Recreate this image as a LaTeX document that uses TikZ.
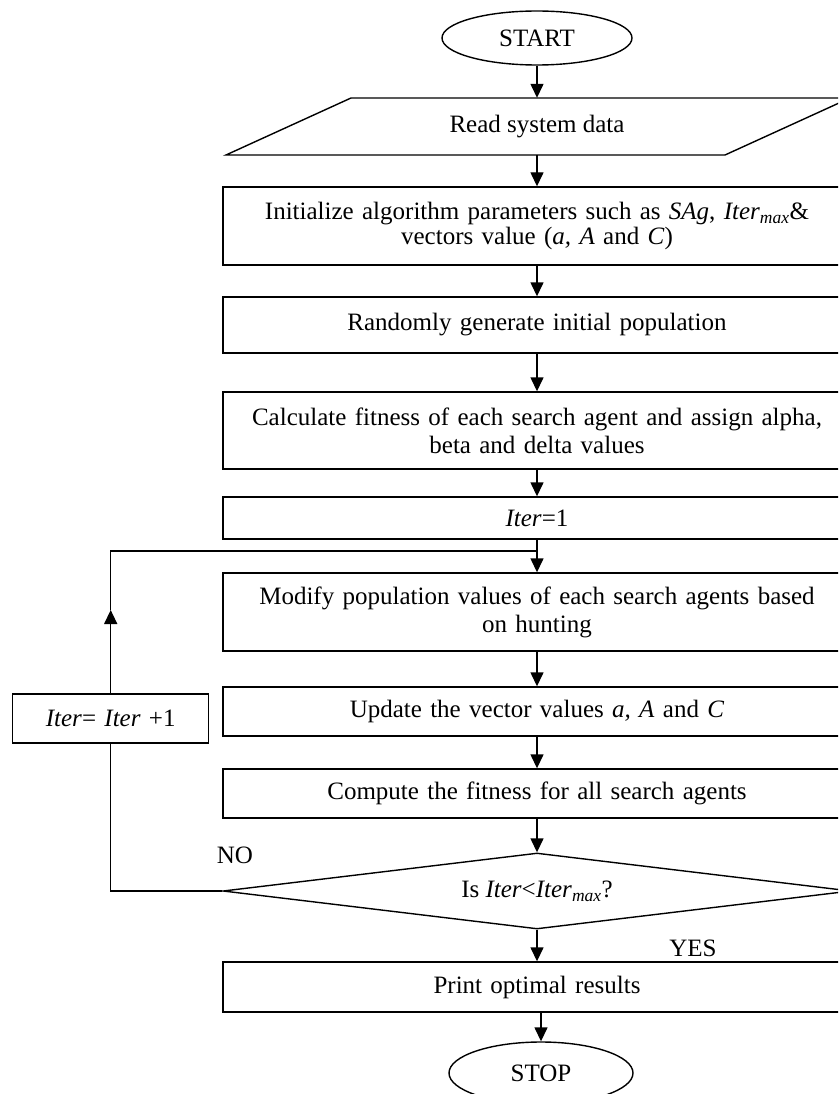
\documentclass[tikz,border=0pt]{standalone}
\usepackage{fontspec}
\setmainfont{Liberation Serif}
\usetikzlibrary{arrows.meta,shapes.geometric}
\begin{document}
\begin{tikzpicture}[x=1pt,y=-1pt,
  every node/.style={font=\fontsize{25}{28}\selectfont},
  ln/.style={line width=1.4pt},
  box/.style={draw, ln, rectangle, minimum width=628, align=center, inner sep=0pt, text width=620},
  term/.style={draw, ln, ellipse, inner sep=0pt},
  arr/.style={ln, -{Triangle[length=14pt,width=13pt]}}]
\useasboundingbox (0,0) rectangle (838,1094);
\clip (0,0) rectangle (838,1094);

\node[term, minimum width=190, minimum height=54] (start) at (537,38) {START};
\node[inner sep=0pt, minimum width=499, minimum height=57] (read) at (537,126.5) {Read system data};
\draw[ln] (226,155) -- (351,98) -- (850,98) -- (725,155) -- cycle;
\node[box, minimum height=78, font=\fontsize{25}{25}\selectfont] (init) at (537,226)
  {Initialize algorithm parameters such as \textit{SAg}, \textit{Iter}\textsubscript{\textit{max}}\&\\ vectors value (\textit{a, A} and \textit{C})};
\node[box, minimum height=56] (rand) at (537,325) {Randomly generate initial population};
\node[box, minimum height=77] (calc) at (537,430.5) {Calculate fitness of each search agent and assign alpha,\\ beta and delta values};
\node[box, minimum height=42] (iter1) at (537,518) {\textit{Iter}=1};
\node[box, minimum height=78] (modify) at (537,612) {Modify population values of each search agents based\\ on hunting};
\node[box, minimum height=49] (update) at (537,711.5) {Update the vector values \textit{a, A} and \textit{C}};
\node[box, minimum height=49] (compute) at (537,793.5) {Compute the fitness for all search agents};
\node[draw, ln, diamond, aspect=8.26, inner sep=0pt, minimum width=628, minimum height=76] (dec) at (537,891)
  {Is \textit{Iter}<\textit{Iter}\textsubscript{\textit{max}}?};
\node[box, minimum height=50] (print) at (537,987) {Print optimal results};
\node[term, minimum width=184, minimum height=62] (stop) at (541,1073) {STOP};

\node[box, minimum width=196, text width=190, minimum height=49] (inc) at (110.7,718.5) {\textit{Iter}= \textit{Iter} +1};
\node (no) at (235,855) {NO};
\node (yes) at (693,948) {YES};

\coordinate (j) at (537,551);
\coordinate (lc) at (110.7,551);
\coordinate (ah) at (110.7,610);

\draw[arr] (start.south) -- (read.north);
\draw[arr] (read.south) -- (init.north);
\draw[arr] (init.south) -- (rand.north);
\draw[arr] (rand.south) -- (calc.north);
\draw[arr] (calc.south) -- (iter1.north);
\draw[arr] (iter1.south) -- (modify.north);
\draw[arr] (modify.south) -- (update.north);
\draw[arr] (update.south) -- (compute.north);
\draw[arr] (compute.south) -- (dec.north);
\draw[arr] (dec.south) -- (print.north);
\draw[arr] (print.south -| stop.north) -- (stop.north);

\draw[ln] (dec.west) -- (dec.west -| inc.south) -- (inc.south);
\draw[arr] (inc.north) -- (ah);
\draw[ln] (ah) -- (lc) -- (j);
\end{tikzpicture}
\end{document}
